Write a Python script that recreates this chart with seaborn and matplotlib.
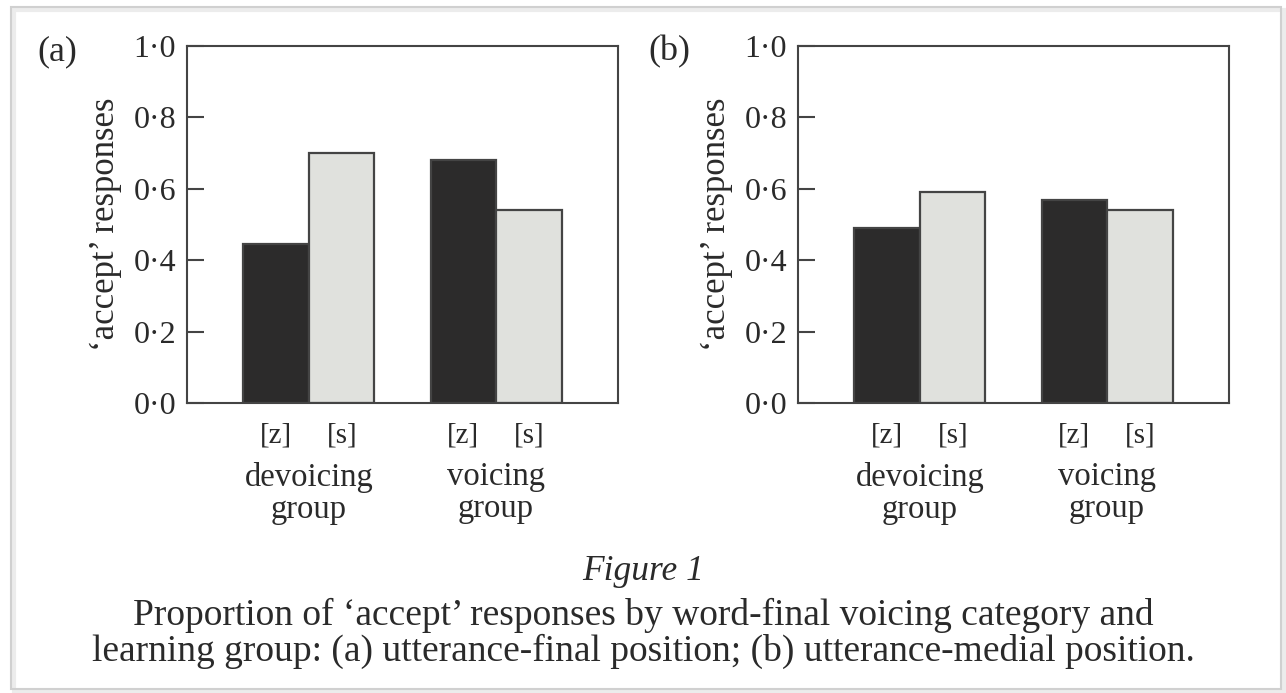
import matplotlib
matplotlib.use("Agg")
import matplotlib.pyplot as plt
import seaborn as sns
import pandas as pd
from matplotlib.patches import Rectangle

# ---- data ----
groups = ["devoicing\ngroup", "voicing\ngroup"]
sounds = ["[z]", "[s]"]
final_z = [0.446, 0.681]
final_s = [0.701, 0.542]
medial_z = [0.490, 0.569]
medial_s = [0.590, 0.541]
yticks = [0.0, 0.2, 0.4, 0.6, 0.8, 1.0]
ytick_labels = ["0·0", "0·2", "0·4", "0·6", "0·8", "1·0"]
panel_labels = ["(a)", "(b)"]
ylabel = "‘accept’ responses"
fig_title = "Figure 1"
caption_lines = ["Proportion of ‘accept’ responses by word-final voicing category and",
                 "learning group: (a) utterance-final position; (b) utterance-medial position."]

sns.set_theme(style="white")
plt.rcParams["font.family"] = ["Liberation Serif", "DejaVu Serif"]

W, H = 1286, 693
fig = plt.figure(figsize=(W / 100, H / 100), dpi=100)

dark = "#2c2b2b"
light = "#e0e1dd"
edge = "#444444"
textc = "#2a2a2a"

def make_df(zv, sv):
    rows = []
    for g, z, s in zip(groups, zv, sv):
        rows.append({"group": g, "sound": sounds[0], "value": z})
        rows.append({"group": g, "sound": sounds[1], "value": s})
    return pd.DataFrame(rows)

panels = [(make_df(final_z, final_s), 187), (make_df(medial_z, medial_s), 798)]
ax_w, top_px, bot_px = 431, 46, 403

for i, (df, left_px) in enumerate(panels):
    ax = fig.add_axes([left_px / W, 1 - bot_px / H, ax_w / W, (bot_px - top_px) / H])
    sns.barplot(data=df, x="group", y="value", hue="sound", order=groups,
                hue_order=sounds, palette=[dark, light], width=0.7,
                edgecolor=edge, linewidth=1.6, saturation=1, legend=False, ax=ax)
    ax.set_ylim(0, 1.0)
    ax.set_xlim(-0.652, 1.652)
    ax.set_yticks(yticks)
    ax.set_yticklabels(ytick_labels, fontsize=23, color=textc)
    ax.tick_params(axis="y", direction="in", length=12, width=1.5, color=edge,
                   left=True, pad=8)
    ax.set_ylabel(ylabel, fontsize=25, color=textc, labelpad=8)
    ax.set_xlabel("")
    # bar-level tick labels
    centers = sorted(p.get_x() + p.get_width() / 2 for p in ax.patches)
    labs = [sounds[j % 2] for j in range(len(centers))]
    ax.set_xticks(centers)
    ax.set_xticklabels(labs, fontsize=21, color=textc)
    ax.tick_params(axis="x", length=0, pad=14)
    for sp in ax.spines.values():
        sp.set_visible(True)
        sp.set_color(edge)
        sp.set_linewidth(1.5)
    # group labels
    for gi, g in enumerate(groups):
        ax.text(gi, -0.165, g, transform=ax.get_xaxis_transform(), ha="center",
                va="top", fontsize=23.5, color=textc, linespacing=1.05)
    # panel label
    fig.text((left_px - 150) / W, 1 - 52 / H, panel_labels[i], fontsize=26,
             color=textc, ha="left", va="center")

fig.text(0.5, 1 - 572 / H, fig_title, fontsize=25.5, style="italic",
         ha="center", va="center", color=textc)
for k, (line, ypx) in enumerate(zip(caption_lines, [615, 651])):
    fig.text(0.5, 1 - ypx / H, line, fontsize=27, ha="center", va="center",
             color=textc)

# picture frame with soft shadow
for off, col, lw in [(3, "#ececec", 3.0), (0, "#d0d0d0", 1.5)]:
    fig.patches.append(Rectangle(((11 + off) / W, 1 - (689 + off) / H), 1270 / W, 682 / H,
                                 transform=fig.transFigure, fill=False,
                                 edgecolor=col, linewidth=lw))

fig.savefig("out.png", dpi=100, facecolor="white")
